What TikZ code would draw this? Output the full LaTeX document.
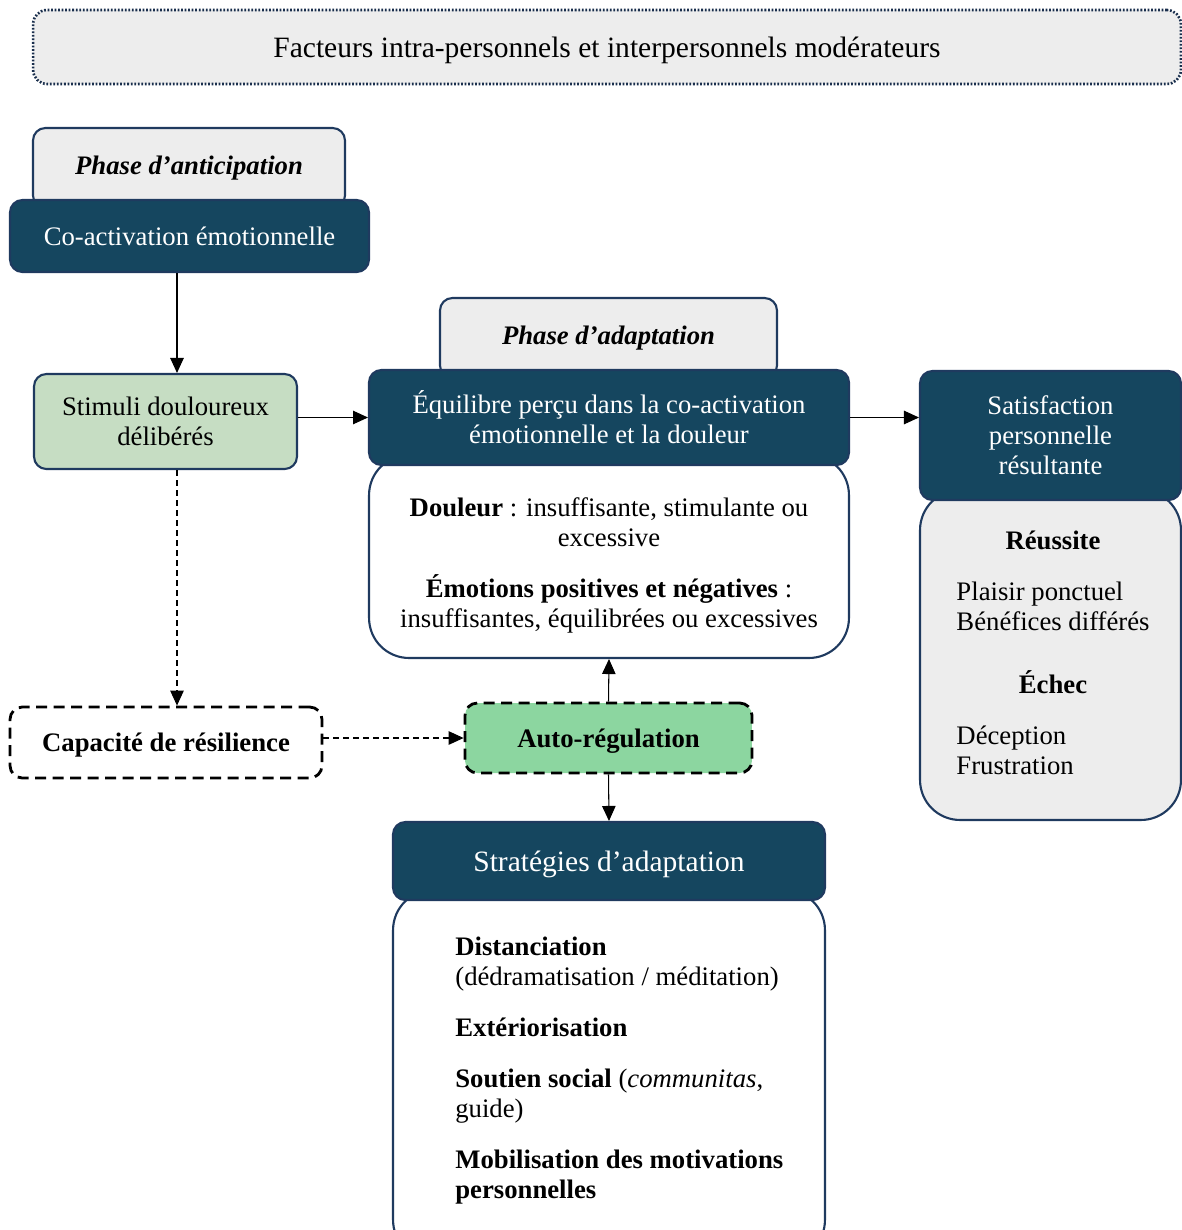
\documentclass[tikz,border=0pt]{standalone}
\usepackage{fontspec}
\setmainfont{Liberation Serif}
\usetikzlibrary{
  arrows.meta,
  positioning
}
\definecolor{fdNavy}{HTML}{1F3A5F}
\definecolor{fdTeal}{HTML}{15465F}
\definecolor{fdGrey}{HTML}{EDEDED}
\definecolor{fdSage}{HTML}{C6DDC3}
\definecolor{fdMint}{HTML}{8CD6A0}
\tikzset{
  fdnode/.style={
    draw=fdNavy, line width=1.2pt, rounded corners=7pt, align=center,
    inner sep=2pt, font=\fontsize{15.2}{17.1}\selectfont
  },
  header/.style={fdnode, fill=fdTeal, text=white},
  phase/.style={fdnode, fill=fdGrey, font=\fontsize{15.2}{17.1}\selectfont\bfseries\itshape},
  stimbox/.style={fdnode, fill=fdSage},
  dashbox/.style={fdnode, draw=black, line width=1.6pt, dash pattern=on 2.2mm off 1.3mm,
    text depth=0pt, font=\fontsize{15.2}{17.1}\selectfont\bfseries},
  detail/.style={fdnode, fill=white, rounded corners=0.8cm},
  banner/.style={fdnode, fill=fdGrey, draw=fdNavy!80!black, line width=1.5pt,
    dash pattern=on 1pt off 1pt, rounded corners=8pt},
  bigtext/.style={font=\fontsize{16.8}{19}\selectfont, text depth=0pt},
  txt/.style={inner sep=0pt, font=\fontsize{15.2}{17.1}\selectfont},
  flow/.style={-{Triangle[length=3mm, width=2.7mm]}, line width=0.6pt},
  dflow/.style={flow, dash pattern=on 1.2mm off 0.8mm}
}

\begin{document}
\begin{tikzpicture}[x=0.02cm, y=-0.02cm]
  \useasboundingbox (0,0) rectangle (1182,1230);
  % moderating factors
  \node[banner, bigtext, minimum width=22.96cm, minimum height=1.48cm] (factors) at (607,47)
    {Facteurs intra-personnels et interpersonnels modérateurs};

  % phase labels and detail boxes go first, the headers overlap them
  \node[phase, minimum width=6.24cm, minimum height=1.6cm] (antic) at (189,168) {Phase d’anticipation};
  \node[phase, minimum width=6.74cm, minimum height=1.6cm] (adapt) at (608.5,338) {Phase d’adaptation};
  \node[detail, minimum width=9.6cm, minimum height=4.06cm] (balance) at (609,556.5) {};
  \node[detail, fill=fdGrey, minimum width=5.22cm, minimum height=6.6cm] (outcome) at (1050.5,655) {};
  \node[detail, minimum width=8.64cm, minimum height=7.4cm] (copebox) at (609,1075) {};

  \node[header, minimum width=7.18cm, minimum height=1.44cm] (coact) at (189.5,236) {Co-activation émotionnelle};
  \node[header, minimum width=9.6cm, minimum height=1.9cm] (equil) at (609,417.5)
    {Équilibre perçu dans la co-activation\\émotionnelle et la douleur};
  \node[header, minimum width=5.22cm, minimum height=2.58cm] (satis) at (1050.5,435.5)
    {Satisfaction\\personnelle\\résultante};
  \node[header, bigtext, minimum width=8.64cm, minimum height=1.56cm] (strat) at (609,861) {Stratégies d’adaptation};

  \node[stimbox, minimum width=5.26cm, minimum height=1.9cm] (stimuli) at (165.5,421.5)
    {Stimuli douloureux\\délibérés};
  \node[dashbox, fill=white, minimum width=6.24cm, minimum height=1.42cm] (resil) at (166,742.5)
    {Capacité de résilience};
  \node[dashbox, fill=fdMint, minimum width=5.74cm, minimum height=1.4cm] (autoreg) at (608.5,738)
    {Auto-régulation};

  % texts of the tall boxes
  \node[txt, align=center] (balancetxt) at (609,565)
    {\textbf{Douleur} : insuffisante, stimulante ou\\excessive\\[0.42cm]
     \textbf{Émotions positives et négatives} :\\insuffisantes, équilibrées ou excessives};
  \node[txt, anchor=north] (outcometxt) at (1053,528) {%
    \begin{tabular}{@{}l@{}}
      \multicolumn{1}{@{}c@{}}{\textbf{Réussite}}\\[0.42cm]
      Plaisir ponctuel\\
      Bénéfices différés\\[0.62cm]
      \multicolumn{1}{@{}c@{}}{\textbf{Échec}}\\[0.42cm]
      Déception\\
      Frustration
    \end{tabular}};
  \node[txt, anchor=north west] (copetxt) at (455,934) {%
    \begin{tabular}{@{}l@{}}
      \textbf{Distanciation}\\
      (dédramatisation / méditation)\\[0.42cm]
      \textbf{Extériorisation}\\[0.42cm]
      \textbf{Soutien social} (\textit{communitas},\\
      guide)\\[0.42cm]
      \textbf{Mobilisation des motivations}\\
      \textbf{personnelles}
    \end{tabular}};

  % connectors
  \coordinate (lane) at (177,0);
  \draw[flow] (coact.south -| lane) -- (stimuli.north -| lane);
  \draw[dflow] (stimuli.south -| lane) -- (resil.north -| lane);
  \draw[flow] (stimuli.east |- equil.west) -- (equil.west);
  \draw[flow] (equil.east) -- (equil.east -| satis.west);
  \draw[dflow] (resil.east |- autoreg.west) -- (autoreg.west);
  \draw[flow] (autoreg.north) -- (balance.south);
  \draw[flow] (autoreg.south) -- (strat.north);
\end{tikzpicture}
\end{document}
